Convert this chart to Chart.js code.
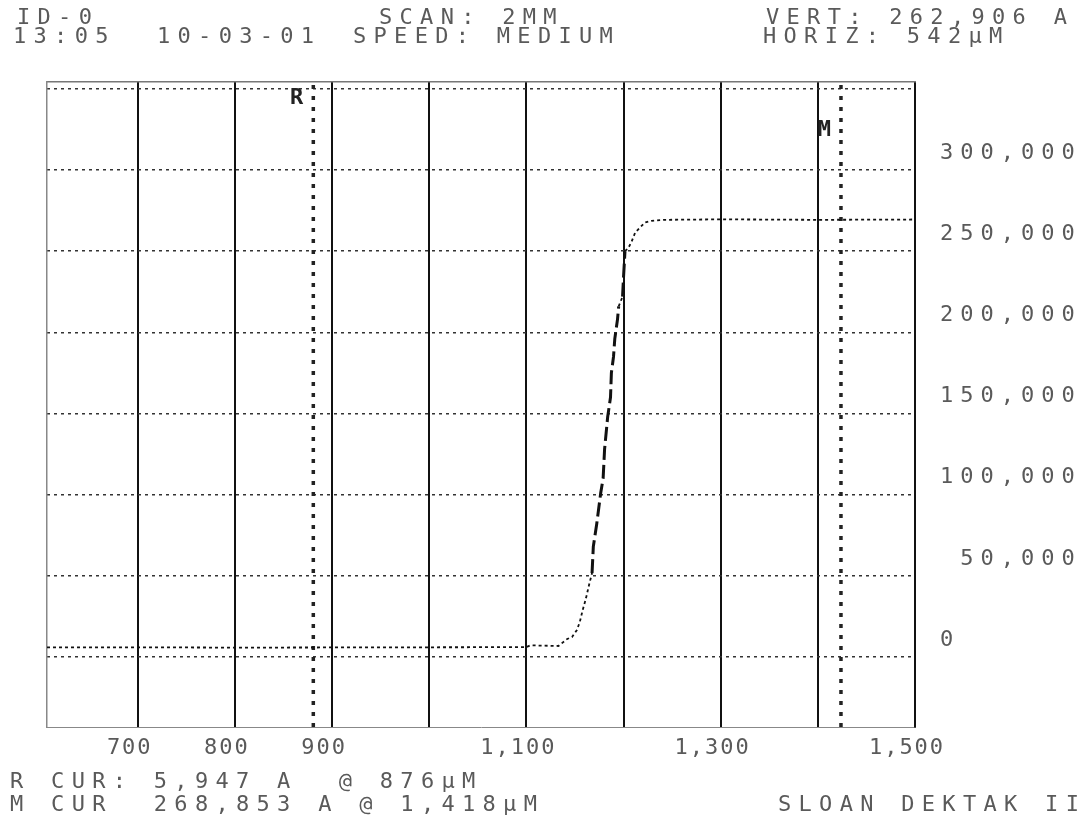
<!DOCTYPE html>
<html>
<head>
<meta charset="utf-8">
<script src="https://cdn.jsdelivr.net/npm/chart.js@4.4.0/dist/chart.umd.min.js"></script>
<style>
  body { margin: 0; background: #fff; }
  #wrap { position: relative; width: 1088px; height: 823px; overflow: hidden; }
  canvas { position: absolute; left: 0; top: 0; }
  .t {
    position: absolute;
    font-family: 'DejaVu Sans Mono', monospace;
    font-size: 22px;
    line-height: 22px;
    letter-spacing: 7.3px;
    color: #5a5a5a;
    white-space: pre;
  }
</style>
</head>
<body>
<div id="wrap">
  <canvas id="chart" width="1088" height="823"></canvas>
  <div class="t" style="left:17px;top:6px">ID-0</div>
  <div class="t" style="left:379px;top:6px">SCAN: 2MM</div>
  <div class="t" style="left:766px;top:6px">VERT: 262,906 A</div>
  <div class="t" style="left:13px;top:25px">13:05</div>
  <div class="t" style="left:157px;top:25px">10-03-01</div>
  <div class="t" style="left:353px;top:25px">SPEED: MEDIUM</div>
  <div class="t" style="left:763px;top:25px">HORIZ: 542µM</div>
  <div class="t" style="left:10px;top:770px">R CUR: 5,947 A  @ 876µM</div>
  <div class="t" style="left:10px;top:793px">M CUR  268,853 A @ 1,418µM</div>
  <div class="t" style="left:778px;top:793px">SLOAN DEKTAK II</div>
</div>
<script>
// scan profile, x in µm, height in Å
const scanX = [606.6, 700, 800, 900, 1000, 1100, 1104, 1133, 1142, 1147, 1152, 1155, 1158, 1161.4, 1164.5, 1167.6,
  1168.9, 1172.4, 1176.5, 1179, 1180.5, 1183.7, 1186.6, 1187.5, 1189.7, 1191, 1193.8, 1195, 1199, 1200,
  1201.5, 1205, 1208.4, 1212, 1217, 1222, 1229, 1241, 1300, 1400, 1500];
const scanY = [5.9, 6.0, 5.8, 5.9, 6.0, 6.1, 7.2, 6.8, 11.1, 12.3, 16.6, 21.6, 29.0, 36.3, 44.4, 51.7,
  68, 82, 101, 110, 128, 148, 160, 175, 185, 196, 208, 216, 222, 234,
  250, 252, 256, 261.5, 264.6, 267.7, 268.7, 269.3, 269.6, 269.3, 269.5];

const cursorNames = ['R', 'M'];
const cursorX = [880.7, 1423.8];
const cursorMarkTop = [351, 331];

const xTicks = [700, 800, 900, 1000, 1100, 1200, 1300, 1400, 1500];
const xTickLabels = ['700', '800', '900', '', '1,100', '', '1,300', '', '1,500'];
const yTicks = [0, 50, 100, 150, 200, 250, 300, 350];
// printer pads the numbers to a 7 character field
const yTickLabels = ['0', ' 50,000', '100,000', '150,000', '200,000', '250,000', '300,000', ''];

const xMin = 606.6, xMax = 1500;
const yMin = -43.1, yMax = 354.2;

const ink = '#5a5a5a';

function steep(ctx) {
  const dx = ctx.p1.parsed.x - ctx.p0.parsed.x;
  const dy = ctx.p1.parsed.y - ctx.p0.parsed.y;
  return Math.abs(dy / dx) > 3;
}

const datasets = [{
  label: 'scan',
  data: scanX.map((x, i) => ({ x: x, y: scanY[i] })),
  borderColor: '#111',
  borderWidth: 1.8,
  borderDash: [3, 3],
  pointRadius: 0,
  tension: 0,
  segment: {
    borderWidth: ctx => steep(ctx) ? 3 : 1.8,
    borderDash: ctx => steep(ctx) ? [14, 5] : [3, 3]
  }
}];
cursorX.forEach((cx, i) => {
  datasets.push({
    label: cursorNames[i] + ' cursor',
    data: [{ x: cx, y: yMin }, { x: cx, y: yMax }],
    borderColor: '#222',
    borderWidth: 3.5,
    borderDash: [4, 7],
    pointRadius: 0
  });
});

// dot-matrix look: wide letter pitch on the tick labels, cursor letters
const printerText = {
  id: 'printerText',
  beforeLayout(chart) { chart.ctx.letterSpacing = '7px'; },
  beforeDraw(chart) { chart.ctx.letterSpacing = '2px'; },
  beforeDatasetsDraw(chart) { chart.ctx.letterSpacing = '0px'; },
  afterDatasetsDraw(chart) { chart.ctx.letterSpacing = '7px'; },
  afterDraw(chart) {
    const ctx = chart.ctx;
    const xs = chart.scales.x, ys = chart.scales.y;
    ctx.save();
    ctx.letterSpacing = '0px';
    ctx.font = 'bold 22px "DejaVu Sans Mono"';
    ctx.fillStyle = '#222';
    ctx.textBaseline = 'top';
    ctx.textAlign = 'right';
    cursorX.forEach((cx, i) => {
      ctx.fillText(cursorNames[i], xs.getPixelForValue(cx) - 10, ys.getPixelForValue(cursorMarkTop[i]));
    });
    ctx.restore();
    ctx.letterSpacing = '0px';
  }
};

new Chart(document.getElementById('chart'), {
  type: 'line',
  data: { datasets: datasets },
  options: {
    responsive: false,
    animation: false,
    layout: { padding: 0 },
    plugins: { legend: { display: false }, tooltip: { enabled: false } },
    scales: {
      x: {
        type: 'linear',
        position: 'bottom',
        min: xMin, max: xMax,
        afterBuildTicks: s => { s.ticks = xTicks.map(v => ({ value: v })); },
        afterFit: s => { s.height = 96; },
        ticks: {
          autoSkip: false, maxRotation: 0, padding: 8, labelOffset: -8,
          color: ink,
          font: { family: 'DejaVu Sans Mono', size: 22 },
          callback: (v, i) => xTickLabels[i]
        },
        grid: { color: '#111', lineWidth: 2, drawTicks: false },
        border: { display: true, color: '#888', width: 1 }
      },
      y: {
        type: 'linear',
        position: 'right',
        min: yMin, max: yMax,
        afterBuildTicks: s => { s.ticks = yTicks.map(v => ({ value: v })); },
        afterFit: s => { s.width = 173; },
        ticks: {
          z: 1, padding: 25, labelOffset: -17,
          color: ink,
          font: { family: 'DejaVu Sans Mono', size: 22 },
          callback: (v, i) => yTickLabels[i]
        },
        grid: { color: '#333', lineWidth: 1.5, drawTicks: false },
        border: { display: true, color: '#111', width: 2, dash: [3, 4] }
      },
      xTop: {
        type: 'linear',
        position: 'top',
        min: xMin, max: xMax,
        afterFit: s => { s.height = 82; },
        ticks: { display: false },
        grid: { display: false },
        border: { display: true, color: '#777', width: 1.5 }
      },
      yLeft: {
        type: 'linear',
        position: 'left',
        min: yMin, max: yMax,
        afterFit: s => { s.width = 47; },
        ticks: { display: false },
        grid: { display: false },
        border: { display: true, color: '#888', width: 1.5 }
      }
    }
  },
  plugins: [printerText]
});
</script>
</body>
</html>
